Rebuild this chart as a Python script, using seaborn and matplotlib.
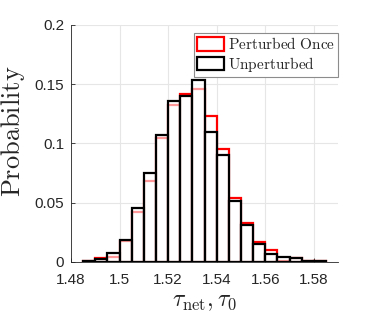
import numpy as np
import pandas as pd
import seaborn as sns
import matplotlib.pyplot as plt
from matplotlib.patches import Patch

# bin centres of the histogram (bin width 0.005)
centers = [1.4875, 1.4925, 1.4975, 1.5025, 1.5075, 1.5125, 1.5175, 1.5225, 1.5275, 1.5325,
           1.5375, 1.5425, 1.5475, 1.5525, 1.5575, 1.5625, 1.5675, 1.5725, 1.5775, 1.5825]
edges = [round(1.485 + 0.005 * i, 4) for i in range(21)]

# probabilities
unperturbed = [0.0011, 0.0022, 0.0076, 0.0185, 0.0458, 0.0747, 0.1070, 0.1354, 0.1396, 0.1531,
               0.1100, 0.0899, 0.0511, 0.0309, 0.0154, 0.0065, 0.0042, 0.0031, 0.0006, 0.0006]
perturbed = [0.0008, 0.0031, 0.0039, 0.0180, 0.0419, 0.0680, 0.1045, 0.1320, 0.1413, 0.1460,
             0.1228, 0.0952, 0.0537, 0.0329, 0.0169, 0.0098, 0.0010, 0.0037, 0.0006, 0.0006]

df = pd.DataFrame({'tau': centers, 'Perturbed Once': perturbed, 'Unperturbed': unperturbed})

sns.set_style('white')
plt.rcParams['font.family'] = ['Liberation Sans', 'DejaVu Sans']
plt.rcParams['mathtext.fontset'] = 'cm'

fig = plt.figure(figsize=(3.74, 3.32), dpi=100)
ax = fig.add_axes([0.19, 0.211, 0.714, 0.714])

sns.histplot(data=df, x='tau', weights='Perturbed Once', bins=edges, stat='count', ax=ax,
             facecolor='white', edgecolor='red', linewidth=1.6, alpha=1)
sns.histplot(data=df, x='tau', weights='Unperturbed', bins=edges, stat='count', ax=ax,
             facecolor=(1, 1, 1, 0.6), edgecolor='black', linewidth=1.6)

ax.set_xlim(1.48, 1.59)
ax.set_ylim(0, 0.2)
ax.set_xticks([1.48, 1.5, 1.52, 1.54, 1.56, 1.58])
ax.set_xticklabels(['1.48', '1.5', '1.52', '1.54', '1.56', '1.58'])
ax.set_yticks([0, 0.05, 0.1, 0.15, 0.2])
ax.set_yticklabels(['0', '0.05', '0.1', '0.15', '0.2'])
ax.grid(True, color='#e6e6e6', linewidth=0.8)
ax.set_axisbelow(True)
for s in ['top', 'right']:
    ax.spines[s].set_visible(False)
for s in ['left', 'bottom']:
    ax.spines[s].set_color('#262626')
    ax.spines[s].set_linewidth(0.6)
ax.tick_params(direction='in', length=3, width=0.6, labelsize=11, colors='#262626',
               left=True, bottom=True)
ax.tick_params(axis='x', pad=8)
ax.tick_params(axis='y', pad=5)

ax.set_xlabel(r'$\tau_{\rm net}, \tau_0$', fontsize=17, labelpad=3)
ax.set_ylabel(r'$\mathrm{Probability}$', fontsize=19, labelpad=2)
ax.yaxis.set_label_coords(-0.165, 0.55)

handles = [Patch(facecolor='white', edgecolor='red', linewidth=1.6),
           Patch(facecolor='white', edgecolor='black', linewidth=1.6)]
leg = ax.legend(handles, [r'$\mathrm{Perturbed\ Once}$', r'$\mathrm{Unperturbed}$'],
                loc='upper right', bbox_to_anchor=(1.0, 0.965), fontsize=11,
                fancybox=False, framealpha=1, edgecolor='#8c8c8c',
                handlelength=1.8, handleheight=0.95, handletextpad=0.25,
                borderpad=0.2, labelspacing=0.15, borderaxespad=0.0)
leg.get_frame().set_linewidth(0.8)

fig.savefig('out.png', dpi=100)
